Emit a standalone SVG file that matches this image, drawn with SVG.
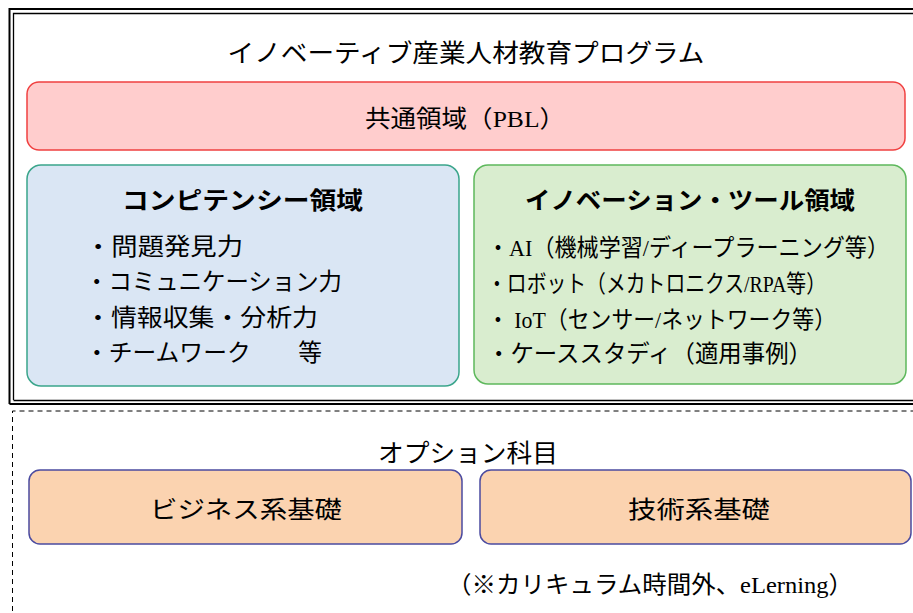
<svg xmlns="http://www.w3.org/2000/svg" width="913" height="613" viewBox="0 0 913 613">
<style>
text{font-family:"Liberation Serif","Noto Sans CJK JP",sans-serif;fill:#000}
.t{font-size:25px}
.h{font-size:24px;font-weight:bold;font-family:"Noto Sans CJK JP",sans-serif}
.i{font-size:24px}
.red{fill:#FFCDCD;stroke:#F04040;stroke-width:1.5}
.blue{fill:#DAE6F4;stroke:#3AA58B;stroke-width:1.5}
.green{fill:#D9EDCF;stroke:#5DB85C;stroke-width:1.5}
.orange{fill:#FBD3B0;stroke:#4B4BA0;stroke-width:1.5}
</style>
<rect width="913" height="613" fill="#fff"/>
<g id="frame">
<path d="M9.5 404 V9 H920" fill="none" stroke="#000" stroke-width="2"/>
<path d="M13.5 400 V13.5 H920" fill="none" stroke="#000" stroke-width="1.3"/>
<path d="M9.5 404 H920" fill="none" stroke="#000" stroke-width="2"/>
<path d="M13.5 400.5 H920" fill="none" stroke="#000" stroke-width="1.3"/>
<text class="t" x="466" y="62" text-anchor="middle" textLength="477" lengthAdjust="spacingAndGlyphs" font-family="Noto Sans CJK JP,sans-serif">イノベーティブ産業人材教育プログラム</text>
</g>
<g id="options-frame">
<path d="M12.5 620 V411 H920" fill="none" stroke="#000" stroke-width="1" stroke-dasharray="5,4"/>
<text class="t" x="468" y="462" text-anchor="middle" textLength="180" lengthAdjust="spacingAndGlyphs" font-family="Noto Sans CJK JP,sans-serif">オプション科目</text>
</g>
<g id="pbl">
<rect class="red" x="27" y="82" width="878" height="68" rx="12"/>
<text class="i" x="465" y="127" text-anchor="middle" textLength="200" lengthAdjust="spacingAndGlyphs">共通領域（PBL）</text>
</g>
<g id="competency">
<rect class="blue" x="27" y="165" width="432" height="221" rx="14"/>
<text class="h" x="242.5" y="209" text-anchor="middle" textLength="241" lengthAdjust="spacingAndGlyphs">コンピテンシー領域</text>
<text class="i" x="85" y="255" textLength="158" lengthAdjust="spacingAndGlyphs">・問題発見力</text>
<text class="i" x="85" y="290" textLength="257" lengthAdjust="spacingAndGlyphs">・コミュニケーション力</text>
<text class="i" x="85" y="326" textLength="233" lengthAdjust="spacingAndGlyphs">・情報収集・分析力</text>
<text class="i" x="85" y="361" textLength="237" lengthAdjust="spacingAndGlyphs">・チームワーク　　等</text>
</g>
<g id="innovation">
<rect class="green" x="474" y="165" width="432" height="219" rx="14"/>
<text class="h" x="690" y="209" text-anchor="middle" textLength="330" lengthAdjust="spacingAndGlyphs">イノベーション・ツール領域</text>
<text class="i" x="487" y="256" font-size="21" textLength="402" lengthAdjust="spacingAndGlyphs">・AI（機械学習/ディープラーニング等）</text>
<text class="i" x="487" y="292" textLength="339" lengthAdjust="spacingAndGlyphs">・ロボット（メカトロニクス/RPA等）</text>
<text class="i" x="487" y="328" textLength="349" lengthAdjust="spacingAndGlyphs">・ IoT（センサー/ネットワーク等）</text>
<text class="i" x="487" y="362" textLength="325" lengthAdjust="spacingAndGlyphs">・ケーススタディ（適用事例）</text>
</g>
<g id="business">
<rect class="orange" x="29" y="470" width="433" height="74" rx="11"/>
<text class="i" x="246" y="518" text-anchor="middle" textLength="192" lengthAdjust="spacingAndGlyphs">ビジネス系基礎</text>
</g>
<g id="tech">
<rect class="orange" x="480" y="470" width="431" height="74" rx="11"/>
<text class="i" x="699" y="518" text-anchor="middle" textLength="142" lengthAdjust="spacingAndGlyphs">技術系基礎</text>
</g>
<g id="note">
<text class="i" x="447" y="593" textLength="406" lengthAdjust="spacingAndGlyphs">（※カリキュラム時間外、eLerning）</text>
</g>
</svg>
